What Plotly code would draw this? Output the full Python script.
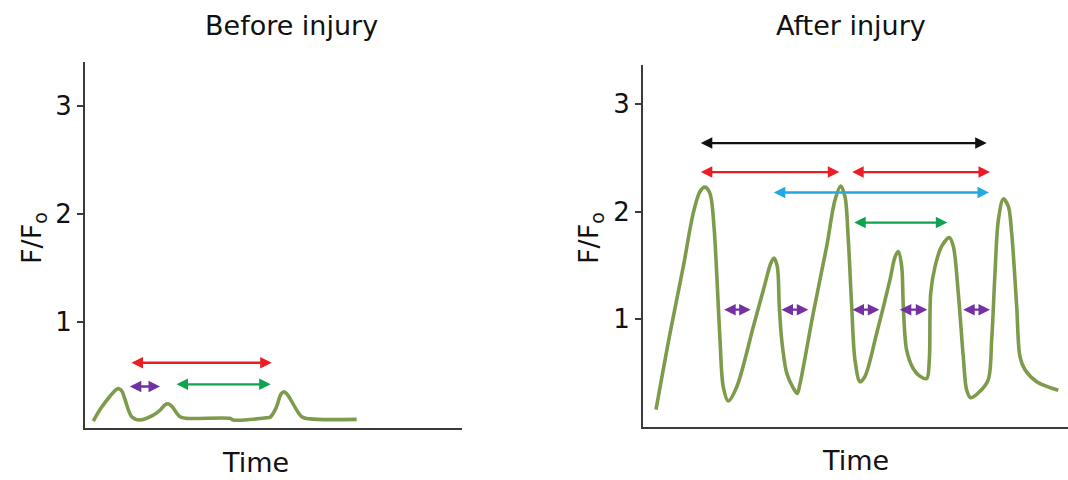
import plotly.graph_objects as go

# ---------------- data ----------------
# Before injury trace (time in arbitrary units, F/Fo)
before_t = [8.3, 16, 25, 31, 34, 37, 40, 46.7, 55, 68.3, 75, 80, 83.3, 87, 95, 101.7, 145, 148.3,
            181.7, 185, 191, 196, 199, 202, 205, 216.7, 225, 271.7]
before_f = [0.08, 0.20, 0.31, 0.37, 0.38, 0.355, 0.28, 0.12, 0.09, 0.135, 0.18, 0.23, 0.24, 0.215,
            0.12, 0.105, 0.105, 0.09, 0.11, 0.115, 0.20, 0.33, 0.35, 0.33, 0.29, 0.12, 0.10, 0.096]

# After injury trace
after_t = [13, 27, 40.3, 50.3, 57, 62, 67, 71, 73.7, 77, 80.3, 85.3,
           93.7, 110.3, 122, 127.7, 131, 134.3, 136.3, 138.7, 143.7, 150.3, 154.3,
           157, 170.3, 183.7, 192, 197.7, 202, 205.3, 208.7, 212, 217, 222,
           233.7, 247, 252, 255.3, 258.7, 260.3, 263.7, 270.3, 277, 283.7,
           286.3, 287.7, 292, 298.7, 306.3, 310.3, 315.3, 320.3, 323.7, 327.7,
           337, 345.3, 348.7, 352, 355.3, 360.3, 365.3, 368.7, 373.7, 377, 382, 393.7, 415.3]
after_f = [0.16, 0.87, 1.49, 1.99, 2.19, 2.23, 2.17, 1.86, 1.43, 0.81, 0.37, 0.24,
           0.37, 0.93, 1.33, 1.52, 1.57, 1.49, 1.12, 0.81, 0.50, 0.36, 0.31,
           0.40, 1.06, 1.68, 2.11, 2.24, 2.14, 1.74, 1.12, 0.62, 0.42, 0.47,
           0.87, 1.37, 1.58, 1.63, 1.49, 1.12, 0.71, 0.54, 0.47, 0.45,
           0.62, 1.24, 1.49, 1.68, 1.76, 1.68, 1.24, 0.65, 0.34, 0.27,
           0.33, 0.44, 0.81, 1.43, 1.92, 2.12, 2.05, 1.80, 1.12, 0.65, 0.53, 0.42, 0.34]

# Interval arrows: level (F/Fo), start time, end time, colour
before_arrow_y = [0.62, 0.40, 0.42]
before_arrow_t0 = [45, 43.3, 90]
before_arrow_t1 = [186.7, 75, 185.7]
before_arrow_c = ["red", "purple", "green"]

after_arrow_y = [2.64, 2.37, 2.37, 2.18, 1.90, 1.09, 1.09, 1.09, 1.09, 1.09]
after_arrow_t0 = [56.3, 56.3, 207.7, 129.3, 209.7, 79.7, 137, 208, 255.3, 318.7]
after_arrow_t1 = [343.7, 196.3, 347, 346, 304.3, 107.7, 165.3, 236.3, 284.3, 347]
after_arrow_c = ["black", "red", "red", "blue", "green",
                 "purple", "purple", "purple", "purple", "purple"]

y_ticks = [1, 2, 3]
titles = ["Before injury", "After injury"]
x_title = "Time"
y_title = "F/F<sub>o</sub>"

# ---------------- styles ----------------
W, H = 1068, 480
FONT = "DejaVu Sans"
TRACE_COLOR = "#7E9B4C"
AXIS_COLOR = "#3a3a3a"
COLORS = {"red": "#EC1C24", "purple": "#7431A2", "green": "#0FA251",
          "blue": "#22A9E1", "black": "#111111"}

fig = go.Figure()
fig.add_trace(go.Scatter(x=before_t, y=before_f, mode="lines", xaxis="x", yaxis="y",
                         line=dict(color=TRACE_COLOR, width=3.6, shape="spline", smoothing=0.9),
                         hoverinfo="skip", showlegend=False))
fig.add_trace(go.Scatter(x=after_t, y=after_f, mode="lines", xaxis="x2", yaxis="y2",
                         line=dict(color=TRACE_COLOR, width=3.6, shape="spline", smoothing=0.9),
                         hoverinfo="skip", showlegend=False))

annotations = []


def add_arrows(ys, t0s, t1s, cs, xr, yr):
    for y, t0, t1, c in zip(ys, t0s, t1s, cs):
        annotations.append(dict(
            x=t1, y=y, ax=t0, ay=y, xref=xr, yref=yr, axref=xr, ayref=yr,
            text="", showarrow=True, arrowside="end+start",
            arrowhead=2, startarrowhead=2, arrowsize=1.0, startarrowsize=1.0,
            arrowwidth=2.3, arrowcolor=COLORS[c], standoff=0, startstandoff=0))


add_arrows(before_arrow_y, before_arrow_t0, before_arrow_t1, before_arrow_c, "x", "y")
add_arrows(after_arrow_y, after_arrow_t0, after_arrow_t1, after_arrow_c, "x2", "y2")

txt_font = dict(family=FONT, size=27, color="#111111")
# panel titles
annotations.append(dict(text=titles[0], x=291.5 / W, y=1 - 25 / H, xref="paper", yref="paper",
                        showarrow=False, xanchor="center", yanchor="middle", font=txt_font))
annotations.append(dict(text=titles[1], x=851 / W, y=1 - 25 / H, xref="paper", yref="paper",
                        showarrow=False, xanchor="center", yanchor="middle", font=txt_font))
# x titles
annotations.append(dict(text=x_title, x=255 / W, y=1 - 462 / H, xref="paper", yref="paper",
                        showarrow=False, xanchor="center", yanchor="middle", font=txt_font))
annotations.append(dict(text=x_title, x=855 / W, y=1 - 460 / H, xref="paper", yref="paper",
                        showarrow=False, xanchor="center", yanchor="middle", font=txt_font))
# y titles
annotations.append(dict(text=y_title, x=33 / W, y=1 - 238 / H, xref="paper", yref="paper",
                        showarrow=False, xanchor="center", yanchor="middle", textangle=-90,
                        font=txt_font))
annotations.append(dict(text=y_title, x=590 / W, y=1 - 238 / H, xref="paper", yref="paper",
                        showarrow=False, xanchor="center", yanchor="middle", textangle=-90,
                        font=txt_font))

xax = dict(showline=True, linecolor=AXIS_COLOR, linewidth=2, showticklabels=False,
           ticks="", showgrid=False, zeroline=False, fixedrange=True)
yax = dict(showline=True, linecolor=AXIS_COLOR, linewidth=2, tickvals=y_ticks,
           ticks="outside", ticklen=6, tickwidth=2, tickcolor=AXIS_COLOR,
           tickfont=dict(family=FONT, size=26, color="#111111"),
           showgrid=False, zeroline=False, fixedrange=True)

fig.update_layout(
    width=W, height=H, margin=dict(l=0, r=0, t=0, b=0),
    paper_bgcolor="white", plot_bgcolor="white",
    xaxis=dict(xax, domain=[85 / W, 462 / W], range=[0, 377], anchor="y"),
    yaxis=dict(yax, domain=[1 - 428.3 / H, 1 - 62 / H], range=[0.013, 3.405], anchor="x"),
    xaxis2=dict(xax, domain=[643 / W, 1.0], range=[0, 425], anchor="y2"),
    yaxis2=dict(yax, domain=[1 - 426.7 / H, 1 - 65 / H], range=[0.001, 3.366], anchor="x2"),
    annotations=annotations,
    showlegend=False,
)

fig.write_html("out.html")
